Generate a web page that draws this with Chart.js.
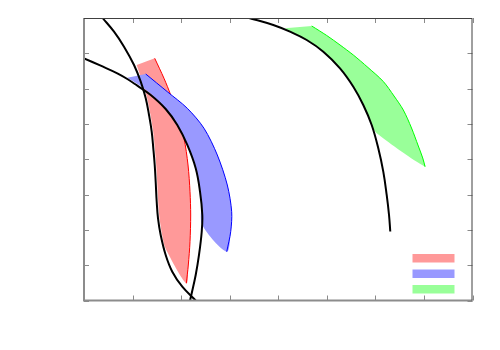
<!DOCTYPE html>
<html>
<head>
<meta charset="utf-8">
<script src="https://cdn.jsdelivr.net/npm/chart.js@4.4.0/dist/chart.umd.min.js"></script>
<style>
  html, body { margin: 0; padding: 0; background: #fff; }
</style>
</head>
<body>
<canvas id="chart" width="500" height="350"></canvas>
<script>
// tick positions (the original shows tick marks only, no labels)
const xTicks = [0, 1, 2, 3, 4, 5, 6, 7, 8];
const yTicks = [0, 1, 2, 3, 4, 5, 6, 7, 8];

// --- black curves ---
const curveAX = [0.377, 0.618, 0.824, 1.030, 1.168, 1.271, 1.339, 1.394, 1.427, 1.456, 1.476, 1.497, 1.524, 1.579, 1.682, 1.818, 2.024, 2.300];
const curveAY = [8.009, 7.612, 7.188, 6.669, 6.196, 5.726, 5.253, 4.780, 4.310, 3.837, 3.364, 2.798, 2.328, 1.855, 1.289, 0.816, 0.391, 0.000];

const curveBX = [0.000, 0.344, 0.686, 0.892, 1.098, 1.374, 1.682, 1.921, 2.127, 2.300, 2.389, 2.436, 2.424, 2.368, 2.300, 2.210, 2.183];
const curveBY = [6.859, 6.649, 6.434, 6.273, 6.083, 5.820, 5.423, 4.970, 4.404, 3.744, 3.081, 2.421, 1.948, 1.289, 0.722, 0.156, 0.000];

const curveCX = [3.383, 3.898, 4.242, 4.586, 4.928, 5.272, 5.546, 5.751, 5.924, 6.060, 6.163, 6.233, 6.281, 6.307];
const curveCY = [8.009, 7.802, 7.612, 7.377, 7.046, 6.576, 6.055, 5.536, 4.970, 4.310, 3.648, 2.988, 2.421, 1.954];

// --- shaded bands: outer edge and inner edge, both listed top to bottom ---
const redOuterX = [1.456, 1.647, 1.785, 1.921, 2.059, 2.142, 2.183, 2.197, 2.183, 2.148, 2.107];
const redOuterY = [6.859, 6.293, 5.820, 5.253, 4.593, 3.837, 3.081, 2.421, 1.665, 1.005, 0.487];
const redInnerX = [1.085, 1.198, 1.301, 1.369, 1.425, 1.458, 1.487, 1.507, 1.528, 1.555, 1.610, 1.678];
const redInnerY = [6.669, 6.196, 5.726, 5.253, 4.780, 4.310, 3.837, 3.364, 2.798, 2.328, 1.855, 1.478];

const blueOuterX = [1.271, 1.715, 2.127, 2.471, 2.745, 2.951, 3.041, 3.021, 2.939];
const blueOuterY = [6.414, 5.913, 5.443, 4.877, 4.121, 3.271, 2.515, 1.948, 1.382];
const blueInnerX = [0.892, 1.133, 1.406, 1.715, 1.956, 2.162, 2.333, 2.415, 2.436];
const blueInnerY = [6.310, 6.103, 5.820, 5.395, 4.922, 4.310, 3.554, 2.798, 2.138];

const greenOuterX = [4.689, 4.998, 5.272, 5.546, 5.848, 6.163, 6.384, 6.575, 6.744, 6.884, 6.975, 7.022];
const greenOuterY = [7.774, 7.505, 7.236, 6.952, 6.598, 6.202, 5.791, 5.395, 4.885, 4.375, 4.036, 3.789];
const greenInnerX = [4.139, 4.242, 4.586, 4.928, 5.272, 5.546, 5.751, 5.924, 6.027];
const greenInnerY = [7.709, 7.612, 7.377, 7.046, 6.576, 6.055, 5.536, 4.970, 4.735];

// legend entries (titles are empty in the original)
const legendLabels = ['', '', ''];

// colours
const fillColors = ['#ff9999', '#9999ff', '#99ff99'];
const edgeColors = ['#ff0000', '#0000ff', '#00ff00'];

// helpers
function pts(xs, ys) {
    return xs.map((x, i) => ({ x: x, y: ys[i] }));
}
function band(ox, oy, ix, iy) {
    // outer edge downwards, then inner edge back up -> closed shape
    return pts(ox, oy).concat(pts(ix, iy).reverse());
}

function bandFill(data, color, order) {
    return { data: data, showLine: true, fill: 'shape', backgroundColor: color, borderWidth: 0,
             pointRadius: 0, tension: 0.3, order: order };
}
function edgeLine(data, color, order) {
    return { data: data, showLine: true, fill: false, borderColor: color, borderWidth: 1,
             pointRadius: 0, tension: 0.3, order: order };
}
function blackCurve(data) {
    return { data: data, showLine: true, fill: false, borderColor: '#000000', borderWidth: 2,
             pointRadius: 0, tension: 0.4, order: 1 };
}

// frame with inward tick marks on all four sides
const framePlugin = {
    id: 'frame',
    afterDatasetsDraw(chart) {
        const { ctx, chartArea: a, scales } = chart;
        const tl = 5;
        ctx.save();
        ctx.lineCap = 'butt';

        // ticks
        ctx.strokeStyle = '#8a8a8a';
        ctx.lineWidth = 1;
        ctx.beginPath();
        xTicks.forEach(v => {
            const px = Math.round(scales.x.getPixelForValue(v)) + 0.5;
            ctx.moveTo(px, a.bottom); ctx.lineTo(px, a.bottom - tl);
            ctx.moveTo(px, a.top); ctx.lineTo(px, a.top + tl);
        });
        yTicks.forEach(v => {
            const py = Math.round(scales.y.getPixelForValue(v)) + 0.5;
            ctx.moveTo(a.left, py); ctx.lineTo(a.left + tl, py);
            ctx.moveTo(a.right, py); ctx.lineTo(a.right - tl, py);
        });
        ctx.stroke();

        // left + bottom border (lighter, wider)
        ctx.strokeStyle = '#8c8c8c';
        ctx.lineWidth = 2;
        ctx.beginPath();
        ctx.moveTo(a.left, a.top); ctx.lineTo(a.left, a.bottom); ctx.lineTo(a.right, a.bottom);
        ctx.stroke();

        // top + right border (darker, thin)
        ctx.strokeStyle = '#404040';
        ctx.lineWidth = 1;
        ctx.beginPath();
        ctx.moveTo(a.left, a.top + 0.5); ctx.lineTo(a.right - 0.5, a.top + 0.5); ctx.lineTo(a.right - 0.5, a.bottom);
        ctx.stroke();
        ctx.restore();
    }
};

// key in the lower right corner of the plot
const keyPlugin = {
    id: 'key',
    afterDatasetsDraw(chart) {
        const { ctx, chartArea: a } = chart;
        const w = 42, h = 8.5, gap = 15.5;
        const x0 = a.right - 18 - w;
        const y0 = a.bottom - 46.5;
        ctx.save();
        legendLabels.forEach((label, i) => {
            const y = y0 + i * gap;
            ctx.fillStyle = fillColors[i];
            ctx.fillRect(x0, y, w, h);
            ctx.fillStyle = '#000';
            ctx.font = '10px "DejaVu Sans"';
            ctx.textAlign = 'right';
            ctx.textBaseline = 'middle';
            ctx.fillText(label, x0 - 6, y + h / 2);
        });
        ctx.restore();
    }
};

new Chart(document.getElementById('chart'), {
    type: 'scatter',
    data: {
        datasets: [
            bandFill(band(redOuterX, redOuterY, redInnerX, redInnerY), fillColors[0], 9),
            edgeLine(pts(redOuterX, redOuterY), edgeColors[0], 8),
            bandFill(band(blueOuterX, blueOuterY, blueInnerX, blueInnerY), fillColors[1], 7),
            edgeLine(pts(blueOuterX, blueOuterY), edgeColors[1], 6),
            bandFill(band(greenOuterX, greenOuterY, greenInnerX, greenInnerY), fillColors[2], 5),
            edgeLine(pts(greenOuterX, greenOuterY), edgeColors[2], 4),
            blackCurve(pts(curveAX, curveAY)),
            blackCurve(pts(curveBX, curveBY)),
            blackCurve(pts(curveCX, curveCY))
        ]
    },
    options: {
        responsive: false,
        animation: false,
        layout: { padding: { left: 84, right: 27.5, top: 18, bottom: 49.5 } },
        plugins: { legend: { display: false }, tooltip: { enabled: false } },
        scales: {
            x: { type: 'linear', display: false, min: 0, max: 8 },
            y: { type: 'linear', display: false, min: 0, max: 8 }
        }
    },
    plugins: [framePlugin, keyPlugin]
});
</script>
</body>
</html>
